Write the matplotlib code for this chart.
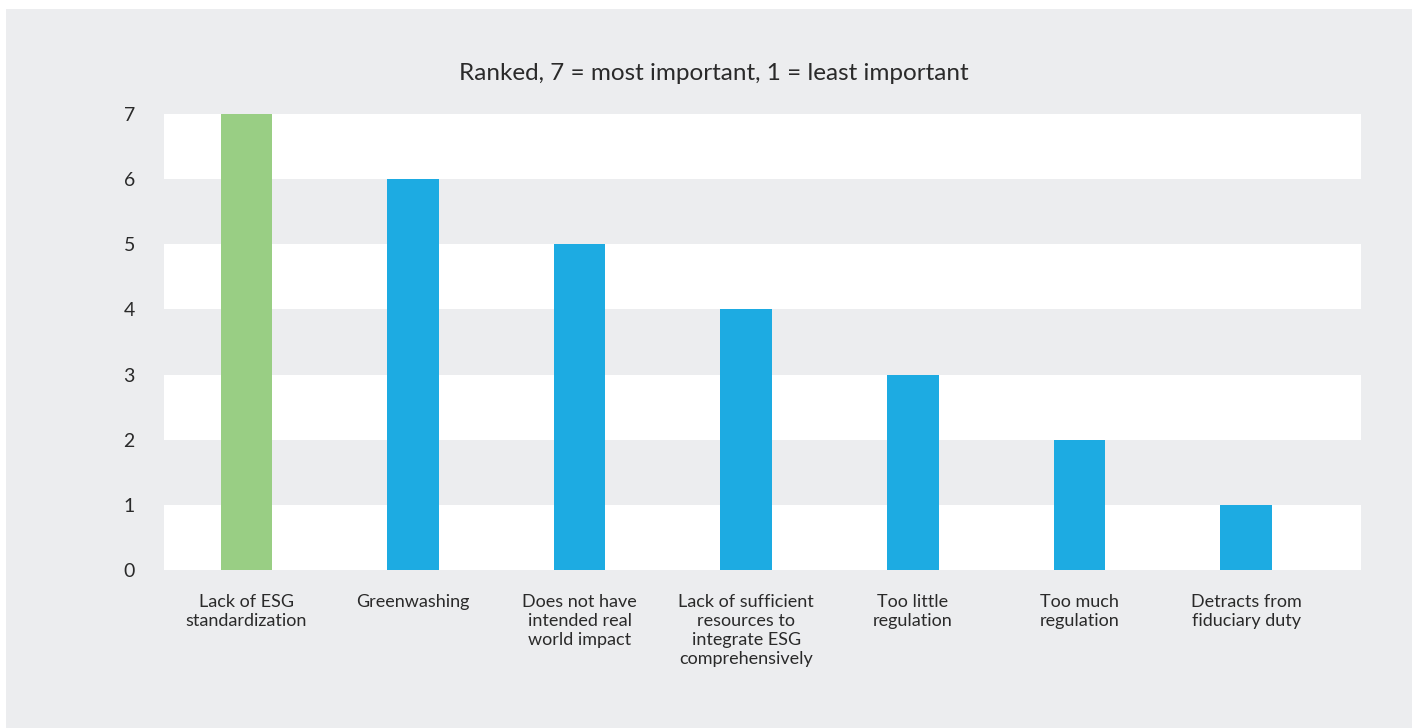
import matplotlib
matplotlib.use("Agg")
import matplotlib.pyplot as plt
from matplotlib.patches import Rectangle

categories = ["Lack of ESG\nstandardization", "Greenwashing", "Does not have\nintended real\nworld impact",
              "Lack of sufficient\nresources to\nintegrate ESG\ncomprehensively", "Too little\nregulation",
              "Too much\nregulation", "Detracts from\nfiduciary duty"]
ranks = [7, 6, 5, 4, 3, 2, 1]
bar_colors = ["#99CE84", "#1DABE2", "#1DABE2", "#1DABE2", "#1DABE2", "#1DABE2", "#1DABE2"]
yticks = [0, 1, 2, 3, 4, 5, 6, 7]

plt.rcParams['font.family'] = ['Lato', 'DejaVu Sans']
txt = "#2a2a2a"
bg = "#ECEDEF"

fig = plt.figure(figsize=(14.18, 7.28), dpi=100, facecolor="white")
fig.patches.append(Rectangle((6/1418, 0), 1406/1418, 1 - 9/728, transform=fig.transFigure,
                             facecolor=bg, edgecolor="none", zorder=-10))

ax = fig.add_axes([164/1418, 1 - 570/728, 1197/1418, 456/728])
ax.set_facecolor(bg)

# white bands between 0-1, 2-3, 4-5, 6-7
for lo in range(0, 7, 2):
    ax.axhspan(lo, lo + 1, color="white", zorder=0, lw=0)

x = list(range(len(categories)))
ax.bar(x, ranks, width=0.31, color=bar_colors, zorder=2)

ax.set_xlim(-0.495, 6.69)
ax.set_ylim(0, 7)
ax.set_yticks(yticks)
ax.set_xticks(x)
ax.set_xticklabels(categories, fontsize=13, color=txt, linespacing=1.25, va="top")
ax.tick_params(axis="y", length=0, pad=21, labelsize=14, labelcolor=txt)
ax.tick_params(axis="x", length=0, pad=17)
for s in ax.spines.values():
    s.set_visible(False)

fig.text(714/1418, 1 - 73/728, "Ranked, 7 = most important, 1 = least important",
         ha="center", va="center", fontsize=17.5, color=txt)

fig.savefig("out.png", dpi=100, facecolor="white")
